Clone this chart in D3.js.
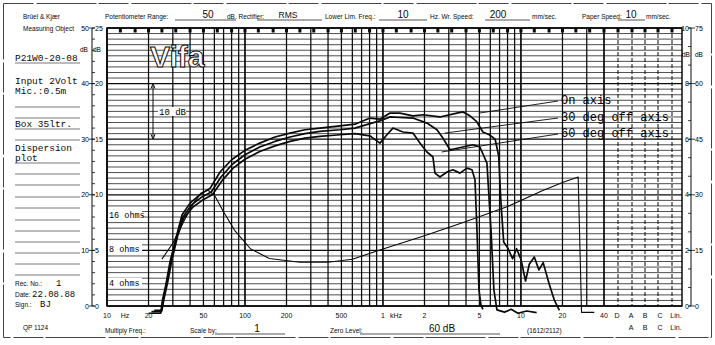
<!DOCTYPE html>
<html><head><meta charset="utf-8">
<script src="https://cdn.jsdelivr.net/npm/d3@7"></script>
<style>body{margin:0;background:#fff}svg{display:block}</style>
</head><body><svg id="c" width="715" height="345"></svg>
<script>
// Frequency tick labels along the bottom of the recorder paper
const freqLabels = [[10,"10"],[20,"20"],[50,"50"],[100,"100"],[200,"200"],[500,"500"],[1000,"1"],[2000,"2"],[5000,"5"],[10000,"10"],[20000,"20"],[40000,"40"]];
// Third-octave marks printed along the top edge
const thirdOct = [12.5,16,20,25,31.5,40,50,63,80,100,125,160,200,250,315,400,500,630,800,1000,1250,1600,2000,2500,3150,4000,5000,6300,8000,10000,12500,16000,20000,25000,31500,40000];
// Left scale (50 dB range / 25 dB range) and right scale (10 / 75)
const leftMain = [0,10,20,30,40,50];
const leftAlt = [0,5,10,15,20,25];
const rightInner = [0,2,4,6,8,10];
const rightOuter = [0,15,30,45,60,75];
// Impedance reference lines (ohms)
const ohmRefs = [16,8,4];

// Response curves: [frequency Hz, level dB]
const onAxis = [[20,-1.3],[24.5,-1.3],[25.2,1],[26.7,3.8],[28.6,7.9],[31.6,12.2],[35,16.4],[40,18.5],[47,20],[56,21.2],[66,24.1],[80,26.3],[100,28],[128,29.3],[165,30.4],[212,31.1],[272,31.7],[349,32],[488,32.4],[627,32.7],[805,33.8],[951,33.6],[1124,34.7],[1328,34.7],[1649,34.2],[1955,34.4],[2588,34.0],[3433,34.7],[3800,34.9],[4270,34.2],[4800,33.1],[5040,32.2],[5300,31.3],[5900,30.8],[6500,30],[6900,27],[7150,19],[7500,11.5],[8000,10.5],[8700,8.5],[9300,10.3],[10000,8.4],[10800,4.5],[11500,7.5],[12500,8.8],[13500,6.5],[14500,7.8],[16000,4],[17500,1],[19000,-0.8]];
const off30 = [[21,-1.0],[24.8,-1.0],[25.6,1.2],[27,4],[29,8],[32,12.5],[35.5,16],[41,18.2],[48,19.5],[57,20.5],[67,23.2],[81,25.5],[100,27.2],[128,28.6],[165,29.6],[212,30.4],[272,31],[349,31.4],[488,31.7],[627,32],[805,32.8],[950,33.3],[1124,34],[1328,33.9],[1649,33.8],[2083,32.9],[2462,31.7],[2720,30.2],[3060,28.1],[3800,28.6],[4490,29],[5040,28.6],[5670,25.7],[6070,13.7],[6370,2.9],[6700,-0.7],[7600,-1.1],[8500,-0.6],[9500,-1.3],[11000,-0.9],[13000,-1.2]];
const off60 = [[22,-0.8],[25,-0.8],[26,1.5],[27.5,4.2],[29.5,8.2],[32.5,12.6],[36,15.8],[42,17.8],[49,19],[58,20],[68,22.5],[82,24.8],[100,26.4],[128,27.8],[165,28.8],[212,29.6],[272,30.2],[349,30.5],[488,30.8],[627,31],[805,30.6],[951,29.3],[1069,30.8],[1181,32.0],[1396,31.3],[1649,31.1],[1854,29.3],[2083,27.7],[2303,26.8],[2382,23.9],[2588,23.2],[2910,24.1],[3215,24.5],[3613,23.9],[4064,24.8],[4418,24.5],[4645,22.7],[4800,13.7],[4965,2.9],[5130,0.2],[5300,-0.6]];

// Impedance curve: [frequency Hz, ohms]
const impedance = [[25,6.5],[30,9],[36,14],[42,20],[48,25],[54,26.5],[60,24],[70,17],[85,11.5],[110,8],[150,6.6],[250,6.1],[400,6.1],[600,6.5],[1000,8],[2000,10.5],[4000,14],[8000,19],[14000,26],[20000,31],[26000,34.7],[27500,2.2],[34000,2.2]];

// Leader lines: label baseline, anchor on the curve [Hz, dB]
const legend = [["On axis",104,[5000,34.7]],["30 deg off axis",121,[2800,31.1]],["60 deg off axis",137,[2660,27.7]]];

const svg = d3.select("#c");
const x = d3.scaleLog().domain([10,40000]).range([107,604]);
const y = d3.scaleLinear().domain([0,50]).range([306,28]);
const yR = d3.scaleLinear().domain([0,75]).range([306,28]);
const yRi = d3.scaleLinear().domain([0,10]).range([306,28]);
const yL = d3.scaleLinear().domain([0,25]).range([306,28]);
const yZ = d3.scaleLog().domain([4,16]).range([283,215]);
const gridRight = 682;
const ink = "#0a0a0a";
const sans = "'Liberation Sans', Arial, sans-serif";
const mono = "'Liberation Mono', 'DejaVu Sans Mono', monospace";

// paper frame
svg.append("rect").attr("x",3.5).attr("y",3.5).attr("width",708).attr("height",334)
  .attr("fill","none").attr("stroke","#444").attr("stroke-width",1).attr("stroke-dasharray","30 3 60 2");

// horizontal grid: one line per dB
const g = svg.append("g");
g.selectAll("line.h").data(d3.range(0,51)).join("line").attr("class","h")
  .attr("x1",x(10)).attr("x2",gridRight)
  .attr("y1",d=>y(d)).attr("y2",d=>y(d))
  .attr("stroke",ink).attr("stroke-width",d=>d%10===0?1.3:0.9).attr("opacity",d=>d%10===0?1:0.8);

// vertical grid: log decades 1..9
const vf = [];
for (const dec of [10,100,1000,10000]) for (let k=1;k<10;k++) { const f=dec*k; if (f<=40000) vf.push(f); }
vf.push(40000);
g.selectAll("line.v").data(vf).join("line").attr("class","v")
  .attr("x1",d=>x(d)).attr("x2",d=>x(d)).attr("y1",y(50)).attr("y2",y(0))
  .attr("stroke",ink).attr("stroke-width",d=>[10,100,1000,10000].includes(d)?1.7:1.25);

// weighting columns beyond 40 kHz
const cols = [618,632,645,658,672];
g.selectAll("line.c").data(cols).join("line").attr("class","c")
  .attr("x1",d=>d).attr("x2",d=>d).attr("y1",y(50)).attr("y2",y(0))
  .attr("stroke",ink).attr("stroke-width",1).attr("stroke-dasharray","4 2");
g.append("rect").attr("x",x(10)).attr("y",y(50)).attr("width",gridRight-x(10)).attr("height",y(0)-y(50))
  .attr("fill","none").attr("stroke",ink).attr("stroke-width",1.5);

// marker blocks along the top edge
g.selectAll("rect.m").data(thirdOct).join("rect").attr("class","m")
  .attr("x",d=>x(d)-1.5).attr("y",y(50)).attr("width",3).attr("height",4.5).attr("fill",ink);
g.selectAll("rect.mc").data(cols).join("rect").attr("class","mc")
  .attr("x",d=>d-1.5).attr("y",y(50)).attr("width",3).attr("height",4.5).attr("fill",ink);

// left scale
const la = svg.append("g");
la.append("line").attr("x1",92).attr("x2",92).attr("y1",y(50)).attr("y2",y(0)).attr("stroke",ink);
la.selectAll("line.t").data(d3.range(0,26)).join("line").attr("class","t")
  .attr("x1",92).attr("x2",95).attr("y1",d=>yL(d)).attr("y2",d=>yL(d)).attr("stroke",ink).attr("stroke-width",0.8);
la.selectAll("text.a").data(leftMain).join("text").attr("class","a")
  .attr("x",89).attr("y",d=>y(d)+2.5).attr("text-anchor","end").attr("font-size",7).attr("font-family",sans).text(d=>d);
la.selectAll("text.b").data(leftAlt).join("text").attr("class","b")
  .attr("x",95).attr("y",d=>yL(d)+2.5).attr("font-size",7).attr("font-family",sans).text(d=>d);
la.selectAll("line.d").data(leftMain).join("line").attr("class","d")
  .attr("x1",89).attr("x2",95).attr("y1",d=>y(d)).attr("y2",d=>y(d)).attr("stroke",ink).attr("stroke-width",0.8);
la.append("text").attr("x",80).attr("y",52).attr("font-size",6.5).attr("font-family",sans).text("dB");
la.append("text").attr("x",93).attr("y",52).attr("font-size",6.5).attr("font-family",sans).text("dB");

// right scale
const ra = svg.append("g");
ra.append("line").attr("x1",691).attr("x2",691).attr("y1",yR(75)).attr("y2",yR(0)).attr("stroke",ink);
ra.selectAll("line.t").data(d3.range(0,76,5)).join("line").attr("class","t")
  .attr("x1",688).attr("x2",691).attr("y1",d=>yR(d)).attr("y2",d=>yR(d)).attr("stroke",ink).attr("stroke-width",0.8);
ra.selectAll("text.a").data(rightInner).join("text").attr("class","a")
  .attr("x",689).attr("y",d=>yRi(d)+2.5).attr("text-anchor","end").attr("font-size",7).attr("font-family",sans).text(d=>d);
ra.selectAll("text.b").data(rightOuter).join("text").attr("class","b")
  .attr("x",695).attr("y",d=>yR(d)+2.5).attr("font-size",7).attr("font-family",sans).text(d=>d);
ra.selectAll("line.d").data(rightOuter).join("line").attr("class","d")
  .attr("x1",689).attr("x2",695).attr("y1",d=>yR(d)).attr("y2",d=>yR(d)).attr("stroke",ink).attr("stroke-width",0.8);
ra.append("text").attr("x",682).attr("y",57).attr("font-size",6.5).attr("font-family",sans).text("dB");
ra.append("text").attr("x",695).attr("y",57).attr("font-size",6.5).attr("font-family",sans).text("dB");

// frequency labels
const fl = svg.append("g").attr("font-family",sans).attr("font-size",7).attr("fill",ink);
fl.selectAll("text.f").data(freqLabels).join("text").attr("class","f")
  .attr("x",d=>x(d[0])).attr("y",318).attr("text-anchor","middle").text(d=>d[1]);
fl.append("text").attr("x",125).attr("y",318).attr("text-anchor","middle").text("Hz");
fl.append("text").attr("x",x(1000)+13).attr("y",318).attr("text-anchor","middle").text("kHz");
fl.selectAll("text.w").data(["D","A","B","C","Lin."]).join("text").attr("class","w")
  .attr("x",(d,i)=>[617,631,645,660,676][i]).attr("y",318).attr("text-anchor","middle").text(d=>d);
fl.selectAll("text.w2").data(["A","B","C","Lin."]).join("text").attr("class","w2")
  .attr("x",(d,i)=>[631,645,660,676][i]).attr("y",330).attr("text-anchor","middle").text(d=>d);

// header fields
const hd = svg.append("g").attr("font-family",sans).attr("font-size",6.5).attr("fill",ink);
hd.append("text").attr("x",23).attr("y",19).text("Brüel & Kjær");
hd.append("text").attr("x",23).attr("y",31).text("Measuring Object");
hd.append("text").attr("x",105).attr("y",19).text("Potentiometer Range:");
hd.append("text").attr("x",227).attr("y",19).text("dB. Rectifier:");
hd.append("text").attr("x",325).attr("y",19).text("Lower Lim. Freq.:");
hd.append("text").attr("x",430).attr("y",19).text("Hz. Wr. Speed:");
hd.append("text").attr("x",532).attr("y",19).text("mm/sec.");
hd.append("text").attr("x",582).attr("y",19).text("Paper Speed:");
hd.append("text").attr("x",646).attr("y",19).text("mm/sec.");
hd.append("text").attr("x",105).attr("y",333).text("Multiply Freq.:");
hd.append("text").attr("x",190).attr("y",333).text("Scale by:");
hd.append("text").attr("x",330).attr("y",333).text("Zero Level:");
hd.append("text").attr("x",527).attr("y",333).text("(1612/2112)");
hd.append("text").attr("x",23).attr("y",330).text("QP 1124");
const uline = [[175,236,20],[257,322,20],[379,427,20],[485,530,20],[618,645,20],[215,285,334],[360,500,334]];
hd.selectAll("line").data(uline).join("line")
  .attr("x1",d=>d[0]).attr("x2",d=>d[1]).attr("y1",d=>d[2]).attr("y2",d=>d[2]).attr("stroke",ink).attr("stroke-width",0.7);
const filled = svg.append("g").attr("font-family",sans).attr("font-size",10).attr("fill",ink);
filled.append("text").attr("x",208).attr("y",18).attr("text-anchor","middle").text("50");
filled.append("text").attr("x",288).attr("y",18).attr("text-anchor","middle").attr("font-size",8.5).text("RMS");
filled.append("text").attr("x",403).attr("y",18).attr("text-anchor","middle").text("10");
filled.append("text").attr("x",498).attr("y",18).attr("text-anchor","middle").text("200");
filled.append("text").attr("x",631).attr("y",18).attr("text-anchor","middle").text("10");
filled.append("text").attr("x",257).attr("y",332).attr("text-anchor","middle").text("1");
filled.append("text").attr("x",442).attr("y",332).attr("text-anchor","middle").text("60  dB");

// left notes column
const notesLines = [63,107,118,129,140,163,174,185,197,208,220,231,242,253,264,275];
svg.append("g").selectAll("line").data(notesLines).join("line")
  .attr("x1",15).attr("x2",80).attr("y1",d=>d).attr("y2",d=>d).attr("stroke","#555").attr("stroke-width",0.8);
const notes = svg.append("g").attr("font-family",mono).attr("font-size",9.5).attr("fill",ink);
notes.append("text").attr("x",15).attr("y",61).text("P21W0-20-08");
notes.append("text").attr("x",15).attr("y",84).text("Input 2Volt");
notes.append("text").attr("x",15).attr("y",94).text("Mic.:0.5m");
notes.append("text").attr("x",15).attr("y",127).text("Box 35ltr.");
notes.append("text").attr("x",15).attr("y",151).text("Dispersion");
notes.append("text").attr("x",15).attr("y",161).text("plot");
const rec = svg.append("g").attr("font-family",sans).attr("font-size",6.5).attr("fill",ink);
rec.append("text").attr("x",15).attr("y",286).text("Rec. No.:");
rec.append("text").attr("x",15).attr("y",297).text("Date:");
rec.append("text").attr("x",15).attr("y",307).text("Sign.:");
const recv = svg.append("g").attr("font-family",mono).attr("font-size",9).attr("fill",ink);
recv.append("text").attr("x",56).attr("y",286).text("1");
recv.append("text").attr("x",32).attr("y",297).text("22.08.88");
recv.append("text").attr("x",40).attr("y",307).text("BJ");

// logo
svg.append("text").attr("x",150).attr("y",67).attr("font-family",sans).attr("font-weight","bold")
  .attr("font-size",30).attr("fill","#fff").attr("stroke",ink).attr("stroke-width",1).text("Vifa");

// 10 dB scale marker with arrow heads
const mk = svg.append("g").attr("stroke",ink).attr("fill",ink);
mk.append("line").attr("x1",153).attr("x2",153).attr("y1",y(40)+2).attr("y2",y(30)-2);
mk.append("path").attr("d",d3.line()([[151,y(40)+5],[153,y(40)],[155,y(40)+5]])).attr("fill","none");
mk.append("path").attr("d",d3.line()([[151,y(30)-5],[153,y(30)],[155,y(30)-5]])).attr("fill","none");
svg.append("rect").attr("x",158).attr("y",107).attr("width",28).attr("height",9).attr("fill","#fff");
svg.append("text").attr("x",159).attr("y",115).attr("font-family",mono).attr("font-size",9).text("10 dB");

// ohm reference labels
const ohm = svg.append("g");
ohm.selectAll("rect").data(ohmRefs).join("rect")
  .attr("x",108).attr("y",d=>yZ(d)-5).attr("width",34).attr("height",9).attr("fill","#fff");
ohm.selectAll("text").data(ohmRefs).join("text")
  .attr("x",109).attr("y",d=>yZ(d)+3).attr("font-family",mono).attr("font-size",8.5).text(d=>d+" ohms");

// curves
const line = d3.line().x(d=>x(d[0])).y(d=>y(d[1]));
const lineZ = d3.line().x(d=>x(d[0])).y(d=>yZ(d[1]));
const curves = svg.append("g").attr("fill","none").attr("stroke",ink).attr("stroke-linejoin","round");
curves.append("path").attr("d",lineZ(impedance)).attr("stroke-width",1.1);
curves.append("path").attr("d",line(off60)).attr("stroke-width",1.7);
curves.append("path").attr("d",line(off30)).attr("stroke-width",1.7);
curves.append("path").attr("d",line(onAxis)).attr("stroke-width",1.7);

// curve legends with leader lines
const lg = svg.append("g");
lg.selectAll("line").data(legend).join("line")
  .attr("x1",d=>x(d[2][0])).attr("y1",d=>y(d[2][1])).attr("x2",558).attr("y2",d=>d[1]-3)
  .attr("stroke",ink).attr("stroke-width",0.9);
lg.selectAll("text").data(legend).join("text")
  .attr("x",561).attr("y",d=>d[1]).attr("font-family",mono).attr("font-size",12).text(d=>d[0]);
</script></body></html>
